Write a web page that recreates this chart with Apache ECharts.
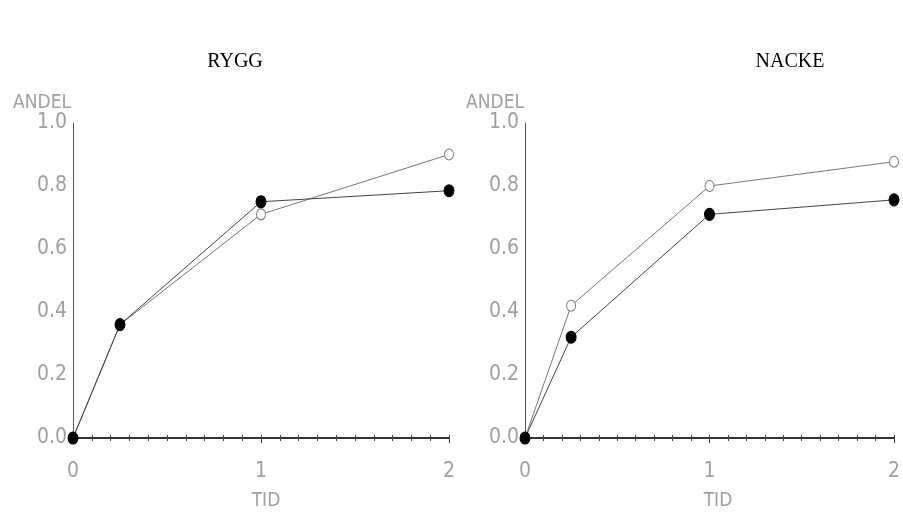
<!DOCTYPE html>
<html><head><meta charset="utf-8">
<script src="https://cdn.jsdelivr.net/npm/echarts@6/dist/echarts.min.js"></script>
<style>html,body{margin:0;padding:0;background:#fff}#c{width:903px;height:529px}</style>
</head><body><div id="c"></div>
<script>
const panelTitles = ['RYGG', 'NACKE'];
const xTicks = [0, 1, 2];
const yTicks = [0.0, 0.2, 0.4, 0.6, 0.8, 1.0];
const tid = [0, 0.25, 1, 2];
const ryggOpen = [0, 0.36, 0.71, 0.90];
const ryggFilled = [0, 0.36, 0.75, 0.785];
const nackeOpen = [0, 0.42, 0.80, 0.877];
const nackeFilled = [0, 0.32, 0.71, 0.756];

const narrow = "'DejaVu Sans Condensed', 'Roboto Condensed', 'Liberation Sans Narrow', 'DejaVu Sans Mono', monospace";
const grids = [
  {left: 73, top: 123, width: 376, height: 315},
  {left: 525, top: 123, width: 376, height: 315}
];
const labelFont = {color: '#a0a0a0', fontFamily: narrow, fontSize: 21, fontWeight: 'lighter'};
const xAxes = [], yAxes = [];
grids.forEach((g, i) => {
  xAxes.push({
    gridIndex: i, type: 'value', min: xTicks[0], max: xTicks[xTicks.length - 1], interval: 1,
    axisLine: {lineStyle: {color: '#333', width: 2}},
    axisTick: {show: true, length: 5, lineStyle: {color: '#333'}},
    minorTick: {show: true, splitNumber: 10, length: 3, lineStyle: {color: '#444'}},
    axisLabel: Object.assign({margin: 23}, labelFont),
    splitLine: {show: false}
  });
  xAxes.push({
    gridIndex: i, type: 'value', position: 'bottom', min: xTicks[0], max: xTicks[xTicks.length - 1], interval: 1,
    axisLine: {show: false},
    axisTick: {show: true, inside: true, length: 3, lineStyle: {color: '#444'}},
    minorTick: {show: true, splitNumber: 10, length: 3, lineStyle: {color: '#444'}},
    axisLabel: {show: false}, splitLine: {show: false}
  });
  yAxes.push({
    gridIndex: i, type: 'value', min: 0, max: 1, interval: 0.2,
    axisLine: {show: true, lineStyle: {color: '#555', width: 1}},
    axisTick: {show: false},
    axisLabel: Object.assign({margin: 6, formatter: v => v.toFixed(1)}, labelFont),
    splitLine: {show: false}
  });
});

function mk(xs, ys) { return xs.map((x, k) => [x, ys[k]]); }
function openSeries(i, ys) {
  return {type: 'line', xAxisIndex: i * 2, yAxisIndex: i, data: mk(tid, ys), symbol: 'circle', symbolSize: [9, 11],
    itemStyle: {color: '#fff', borderColor: '#777', borderWidth: 1}, lineStyle: {color: '#777', width: 1}, z: 2};
}
function filledSeries(i, ys) {
  return {type: 'line', xAxisIndex: i * 2, yAxisIndex: i, data: mk(tid, ys), symbol: 'circle', symbolSize: [10, 12],
    itemStyle: {color: '#000', borderColor: '#000'}, lineStyle: {color: '#444', width: 1}, z: 3};
}

const titleFont = {fontFamily: 'Liberation Serif', fontSize: 20, fontWeight: 'normal', color: '#000'};
const axisNameFont = {fontFamily: narrow, fontSize: 19, fontWeight: 'lighter', color: '#a0a0a0'};
const option = {
  animation: false,
  backgroundColor: '#fff',
  title: [
    {text: panelTitles[0], left: 230, top: 47, textAlign: 'center', textStyle: titleFont},
    {text: panelTitles[1], left: 785, top: 47, textAlign: 'center', textStyle: titleFont},
    {text: 'ANDEL', left: 8, top: 89, textStyle: axisNameFont},
    {text: 'ANDEL', left: 461, top: 89, textStyle: axisNameFont},
    {text: 'TID', left: 261, top: 487, textAlign: 'center', textStyle: axisNameFont},
    {text: 'TID', left: 713, top: 487, textAlign: 'center', textStyle: axisNameFont}
  ],
  grid: grids,
  xAxis: xAxes,
  yAxis: yAxes,
  series: [
    openSeries(0, ryggOpen), filledSeries(0, ryggFilled),
    openSeries(1, nackeOpen), filledSeries(1, nackeFilled)
  ]
};
echarts.init(document.getElementById('c')).setOption(option);
</script></body></html>
